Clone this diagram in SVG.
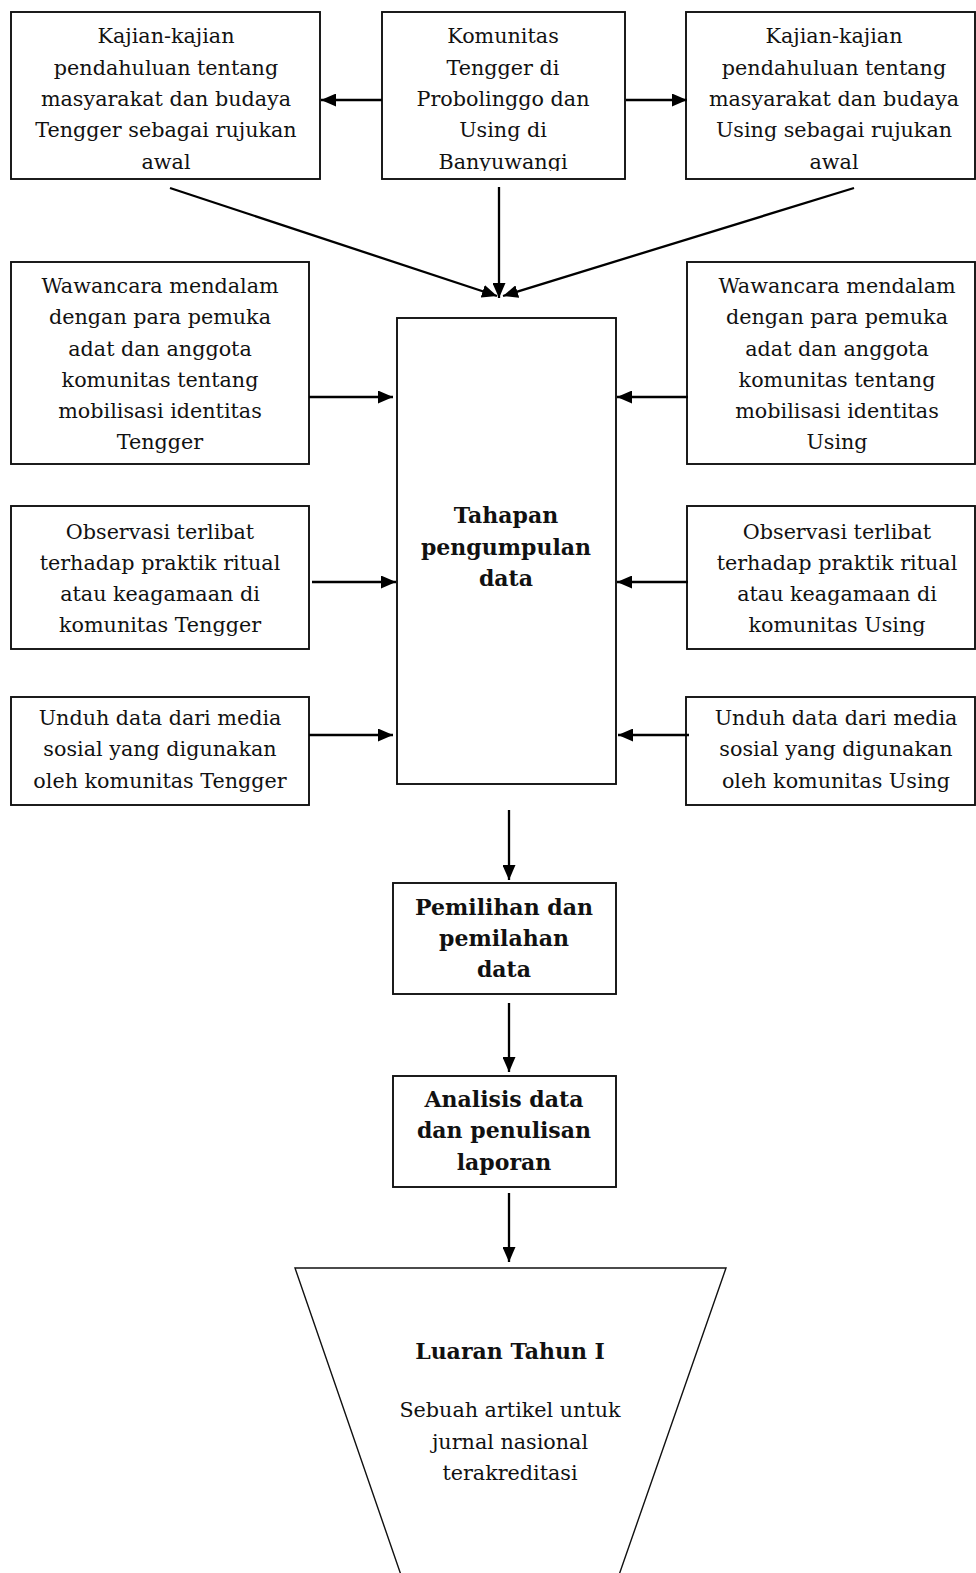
<svg xmlns="http://www.w3.org/2000/svg" width="976" height="1573" viewBox="0 0 976 1573">
<style>
.box{fill:#fff;stroke:#111;stroke-width:1.9}
.t{font-family:"DejaVu Serif","Liberation Serif",serif;font-size:20.7px;fill:#111;text-anchor:middle}
.b{font-family:"DejaVu Serif","Liberation Serif",serif;font-size:22px;font-weight:bold;fill:#111;text-anchor:middle}
.c{stroke:#000;stroke-width:2.3;fill:none;marker-end:url(#ah)}
</style>
<defs>
<marker id="ah" viewBox="0 0 15 13" refX="15" refY="6.5" markerWidth="15" markerHeight="13" markerUnits="userSpaceOnUse" orient="auto"><path d="M0,0 L15,6.5 L0,13 z" fill="#000"/></marker>
<clipPath id="ctop"><rect x="0" y="12" width="976" height="159"/></clipPath>
<clipPath id="cw"><rect x="0" y="262" width="976" height="191"/></clipPath>
</defs>
<rect width="976" height="1573" fill="#fff"/>

<g id="kajian-tengger">
<rect class="box" x="11" y="12" width="309" height="167"/>
<g clip-path="url(#ctop)" class="t">
<text x="166" y="43">Kajian-kajian</text>
<text x="166" y="75">pendahuluan tentang</text>
<text x="166" y="106">masyarakat dan budaya</text>
<text x="166" y="137">Tengger sebagai rujukan</text>
<text x="166" y="169">awal</text>
</g>
</g>

<g id="komunitas">
<rect class="box" x="382" y="12" width="243" height="167"/>
<g clip-path="url(#ctop)" class="t">
<text x="503" y="43">Komunitas</text>
<text x="503" y="75">Tengger di</text>
<text x="503" y="106">Probolinggo dan</text>
<text x="503" y="137">Using di</text>
<text x="503" y="169">Banyuwangi</text>
</g>
</g>

<g id="kajian-using">
<rect class="box" x="686" y="12" width="289" height="167"/>
<g clip-path="url(#ctop)" class="t">
<text x="834" y="43">Kajian-kajian</text>
<text x="834" y="75">pendahuluan tentang</text>
<text x="834" y="106">masyarakat dan budaya</text>
<text x="834" y="137">Using sebagai rujukan</text>
<text x="834" y="169">awal</text>
</g>
</g>

<g id="wawancara-tengger">
<rect class="box" x="11" y="262" width="298" height="202"/>
<g clip-path="url(#cw)" class="t">
<text x="160" y="293">Wawancara mendalam</text>
<text x="160" y="324">dengan para pemuka</text>
<text x="160" y="356">adat dan anggota</text>
<text x="160" y="387">komunitas tentang</text>
<text x="160" y="418">mobilisasi identitas</text>
<text x="160" y="449">Tengger</text>
</g>
</g>

<g id="wawancara-using">
<rect class="box" x="687" y="262" width="288" height="202"/>
<g clip-path="url(#cw)" class="t">
<text x="837" y="293">Wawancara mendalam</text>
<text x="837" y="324">dengan para pemuka</text>
<text x="837" y="356">adat dan anggota</text>
<text x="837" y="387">komunitas tentang</text>
<text x="837" y="418">mobilisasi identitas</text>
<text x="837" y="449">Using</text>
</g>
</g>

<g id="observasi-tengger">
<rect class="box" x="11" y="506" width="298" height="143"/>
<g class="t">
<text x="160" y="539">Observasi terlibat</text>
<text x="160" y="570">terhadap praktik ritual</text>
<text x="160" y="601">atau keagamaan di</text>
<text x="160" y="632">komunitas Tengger</text>
</g>
</g>

<g id="observasi-using">
<rect class="box" x="687" y="506" width="288" height="143"/>
<g class="t">
<text x="837" y="539">Observasi terlibat</text>
<text x="837" y="570">terhadap praktik ritual</text>
<text x="837" y="601">atau keagamaan di</text>
<text x="837" y="632">komunitas Using</text>
</g>
</g>

<g id="unduh-tengger">
<rect class="box" x="11" y="697" width="298" height="108"/>
<g class="t">
<text x="160" y="725">Unduh data dari media</text>
<text x="160" y="756">sosial yang digunakan</text>
<text x="160" y="788">oleh komunitas Tengger</text>
</g>
</g>

<g id="unduh-using">
<rect class="box" x="686" y="697" width="289" height="108"/>
<g class="t">
<text x="836" y="725">Unduh data dari media</text>
<text x="836" y="756">sosial yang digunakan</text>
<text x="836" y="788">oleh komunitas Using</text>
</g>
</g>

<g id="tahapan">
<rect class="box" x="397" y="318" width="219" height="466"/>
<g class="b">
<text x="506" y="523">Tahapan</text>
<text x="506" y="555">pengumpulan</text>
<text x="506" y="586">data</text>
</g>
</g>

<g id="pemilihan">
<rect class="box" x="393" y="883" width="223" height="111"/>
<g class="b">
<text x="504" y="915">Pemilihan dan</text>
<text x="504" y="946">pemilahan</text>
<text x="504" y="977">data</text>
</g>
</g>

<g id="analisis">
<rect class="box" x="393" y="1076" width="223" height="111"/>
<g class="b">
<text x="504" y="1107">Analisis data</text>
<text x="504" y="1138">dan penulisan</text>
<text x="504" y="1170">laporan</text>
</g>
</g>

<g id="luaran">
<path d="M295,1268 L726,1268 L619,1575 L401,1575 Z" fill="#fff" stroke="#111" stroke-width="1.4"/>
<text class="b" x="510" y="1359">Luaran Tahun I</text>
<g class="t">
<text x="510" y="1417">Sebuah artikel untuk</text>
<text x="510" y="1449">jurnal nasional</text>
<text x="510" y="1480">terakreditasi</text>
</g>
</g>

<g id="connectors">
<line class="c" x1="382" y1="100" x2="321" y2="100"/>
<line class="c" x1="626" y1="100" x2="687" y2="100"/>
<line class="c" x1="170" y1="188" x2="497" y2="296"/>
<line class="c" x1="499" y1="187" x2="499" y2="298"/>
<line class="c" x1="854" y1="188" x2="503" y2="296"/>
<line class="c" x1="309" y1="397" x2="393" y2="397"/>
<line class="c" x1="312" y1="582" x2="396" y2="582"/>
<line class="c" x1="309" y1="735" x2="393" y2="735"/>
<line class="c" x1="688" y1="397" x2="617" y2="397"/>
<line class="c" x1="688" y1="582" x2="617" y2="582"/>
<line class="c" x1="689" y1="735" x2="618" y2="735"/>
<line class="c" x1="509" y1="810" x2="509" y2="880"/>
<line class="c" x1="509" y1="1003" x2="509" y2="1072"/>
<line class="c" x1="509" y1="1193" x2="509" y2="1262"/>
</g>
</svg>
